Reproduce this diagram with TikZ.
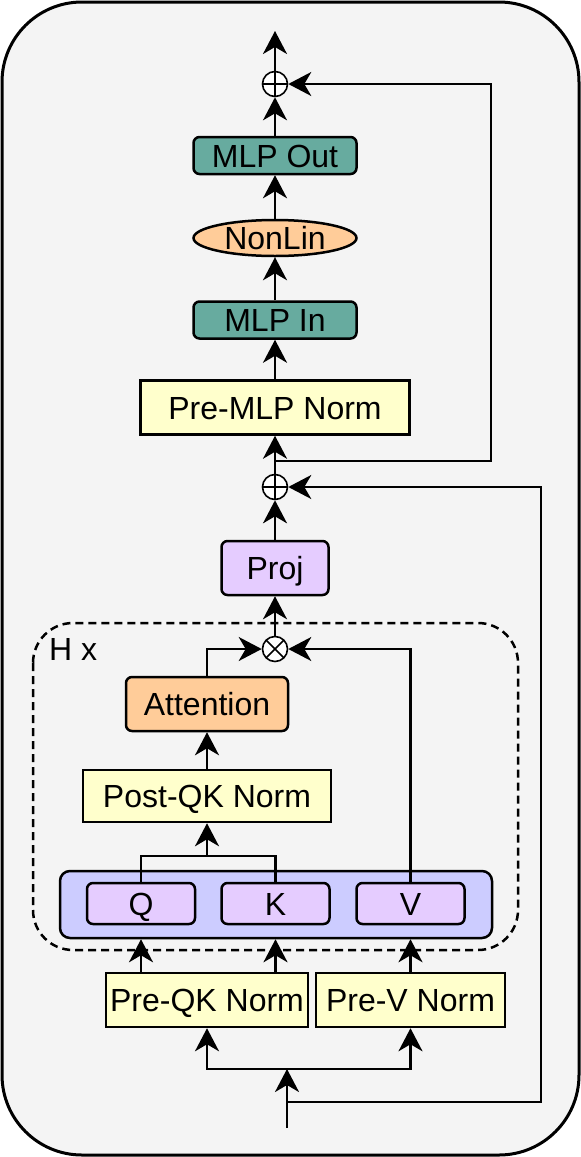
\documentclass[tikz,border=0pt]{standalone}
\usepackage{fontspec}
\setmainfont{Liberation Sans}
\usetikzlibrary{arrows.meta,shapes.geometric}

\definecolor{framegray}{HTML}{F4F4F4}
\definecolor{mlpteal}{HTML}{67AB9F}
\definecolor{attnorange}{HTML}{FFCC99}
\definecolor{normyellow}{HTML}{FFFFCC}
\definecolor{projpurple}{HTML}{E5CCFF}
\definecolor{qkvblue}{HTML}{CCCCFF}

\begin{document}
\begin{tikzpicture}[
  x=0.5pt, y=-0.5pt,
  line width=1.25pt,
  >={Stealth[length=11.5pt,width=12pt,inset=3.5pt]},
  every node/.style={
    font=\fontsize{16}{19}\selectfont, inner sep=0pt,
    text height=11.5pt, text depth=0pt
  },
  block/.style={
    draw, rounded corners=3pt, minimum height=18.5pt
  },
  norm/.style={
    draw, fill=normyellow, minimum height=27pt
  },
  op/.style={
    circle, draw, fill=white, minimum size=12.5pt, line width=0.8pt
  },
  oplus/.style={
    op, path picture={
      \draw[line width=0.8pt]
        (path picture bounding box.north) -- (path picture bounding box.south)
        (path picture bounding box.west) -- (path picture bounding box.east);
    }
  },
  otimes/.style={
    op, path picture={
      \draw[line width=0.8pt]
        (path picture bounding box.north west) -- (path picture bounding box.south east)
        (path picture bounding box.north east) -- (path picture bounding box.south west);
    }
  }
  ]
  \useasboundingbox (0,0) rectangle (581,1157);
  \draw[fill=framegray, line width=1.5pt, rounded corners=40pt] (2,2) rectangle (579,1155);
  \draw[dash pattern=on 4pt off 2.5pt, rounded corners=20pt] (33,623) rectangle (518,950);
  \node[anchor=west] (heads) at (48,649) {H x};

  % MLP half
  \node[oplus] (addtop) at (275,84) {};
  \node[block, fill=mlpteal, minimum width=81.5pt] (mlpout) at (275,155.5) {MLP Out};
  \node[ellipse, draw, fill=attnorange, minimum width=81.5pt, minimum height=18pt] (nonlin) at (275,238) {NonLin};
  \node[block, fill=mlpteal, minimum width=81.5pt] (mlpin) at (275,320) {MLP In};
  \node[norm, minimum width=134.5pt] (premlp) at (275,407.5) {Pre-MLP Norm};
  \node[oplus] (addmid) at (275,487) {};

  % attention half
  \node[block, fill=projpurple, minimum width=53.5pt, minimum height=27pt] (proj) at (275,568) {Proj};
  \node[otimes] (mul) at (275,649) {};
  \node[block, fill=attnorange, minimum width=81pt, minimum height=27pt] (attn) at (207,704) {Attention};
  \node[norm, minimum width=124pt, minimum height=26pt] (postqk) at (207,796) {Post-QK Norm};
  \node[draw, fill=qkvblue, rounded corners=5pt, minimum width=216pt, minimum height=33.5pt] (qkv) at (276,904.5) {};
  \node[block, fill=projpurple, minimum width=54pt, minimum height=20.5pt] (q) at (141,903.5) {Q};
  \node[block, fill=projpurple, minimum width=54pt, minimum height=20.5pt] (k) at (275.5,903.5) {K};
  \node[block, fill=projpurple, minimum width=54pt, minimum height=20.5pt] (v) at (410.5,903.5) {V};
  \node[norm, minimum width=101pt] (preqk) at (207,1000) {Pre-QK Norm};
  \node[norm, minimum width=94.5pt] (prev) at (410.5,1000) {Pre-V Norm};

  \coordinate (out) at (275,31);
  \coordinate (res1) at (275,461);
  \coordinate (qkjoin) at (207,856);
  \coordinate (split) at (287,1069);
  \coordinate (res0) at (287,1102);
  \coordinate (in) at (287,1128);

  \draw[->] (addtop) -- (out);
  \draw[->] (mlpout) -- (addtop);
  \draw[->] (nonlin) -- (mlpout);
  \draw[->] (mlpin) -- (nonlin);
  \draw[->] (premlp) -- (mlpin);
  \draw[->] (addmid) -- (premlp);
  \draw[->] (res1) -- ++(216,0) |- (addtop);
  \draw[->] (proj) -- (addmid);
  \draw[->] (mul) -- (proj);
  \draw[->] (res0) -- ++(254,0) |- (addmid);
  \draw[->] (attn) |- (mul);
  \draw[->] (v) |- (mul);
  \draw[->] (postqk) -- (attn);
  \draw[->] (qkjoin) -- (postqk);
  \draw (q) |- (qkjoin) -| (k);
  \draw[->] (preqk.north -| q) -- (qkv.south -| q);
  \draw[->] (preqk.north -| k) -- (qkv.south -| k);
  \draw[->] (prev) -- (qkv.south -| prev);
  \draw[->] (in) -- (split);
  \draw[->] (split) -| (preqk);
  \draw[->] (split) -| (prev);
\end{tikzpicture}
\end{document}
